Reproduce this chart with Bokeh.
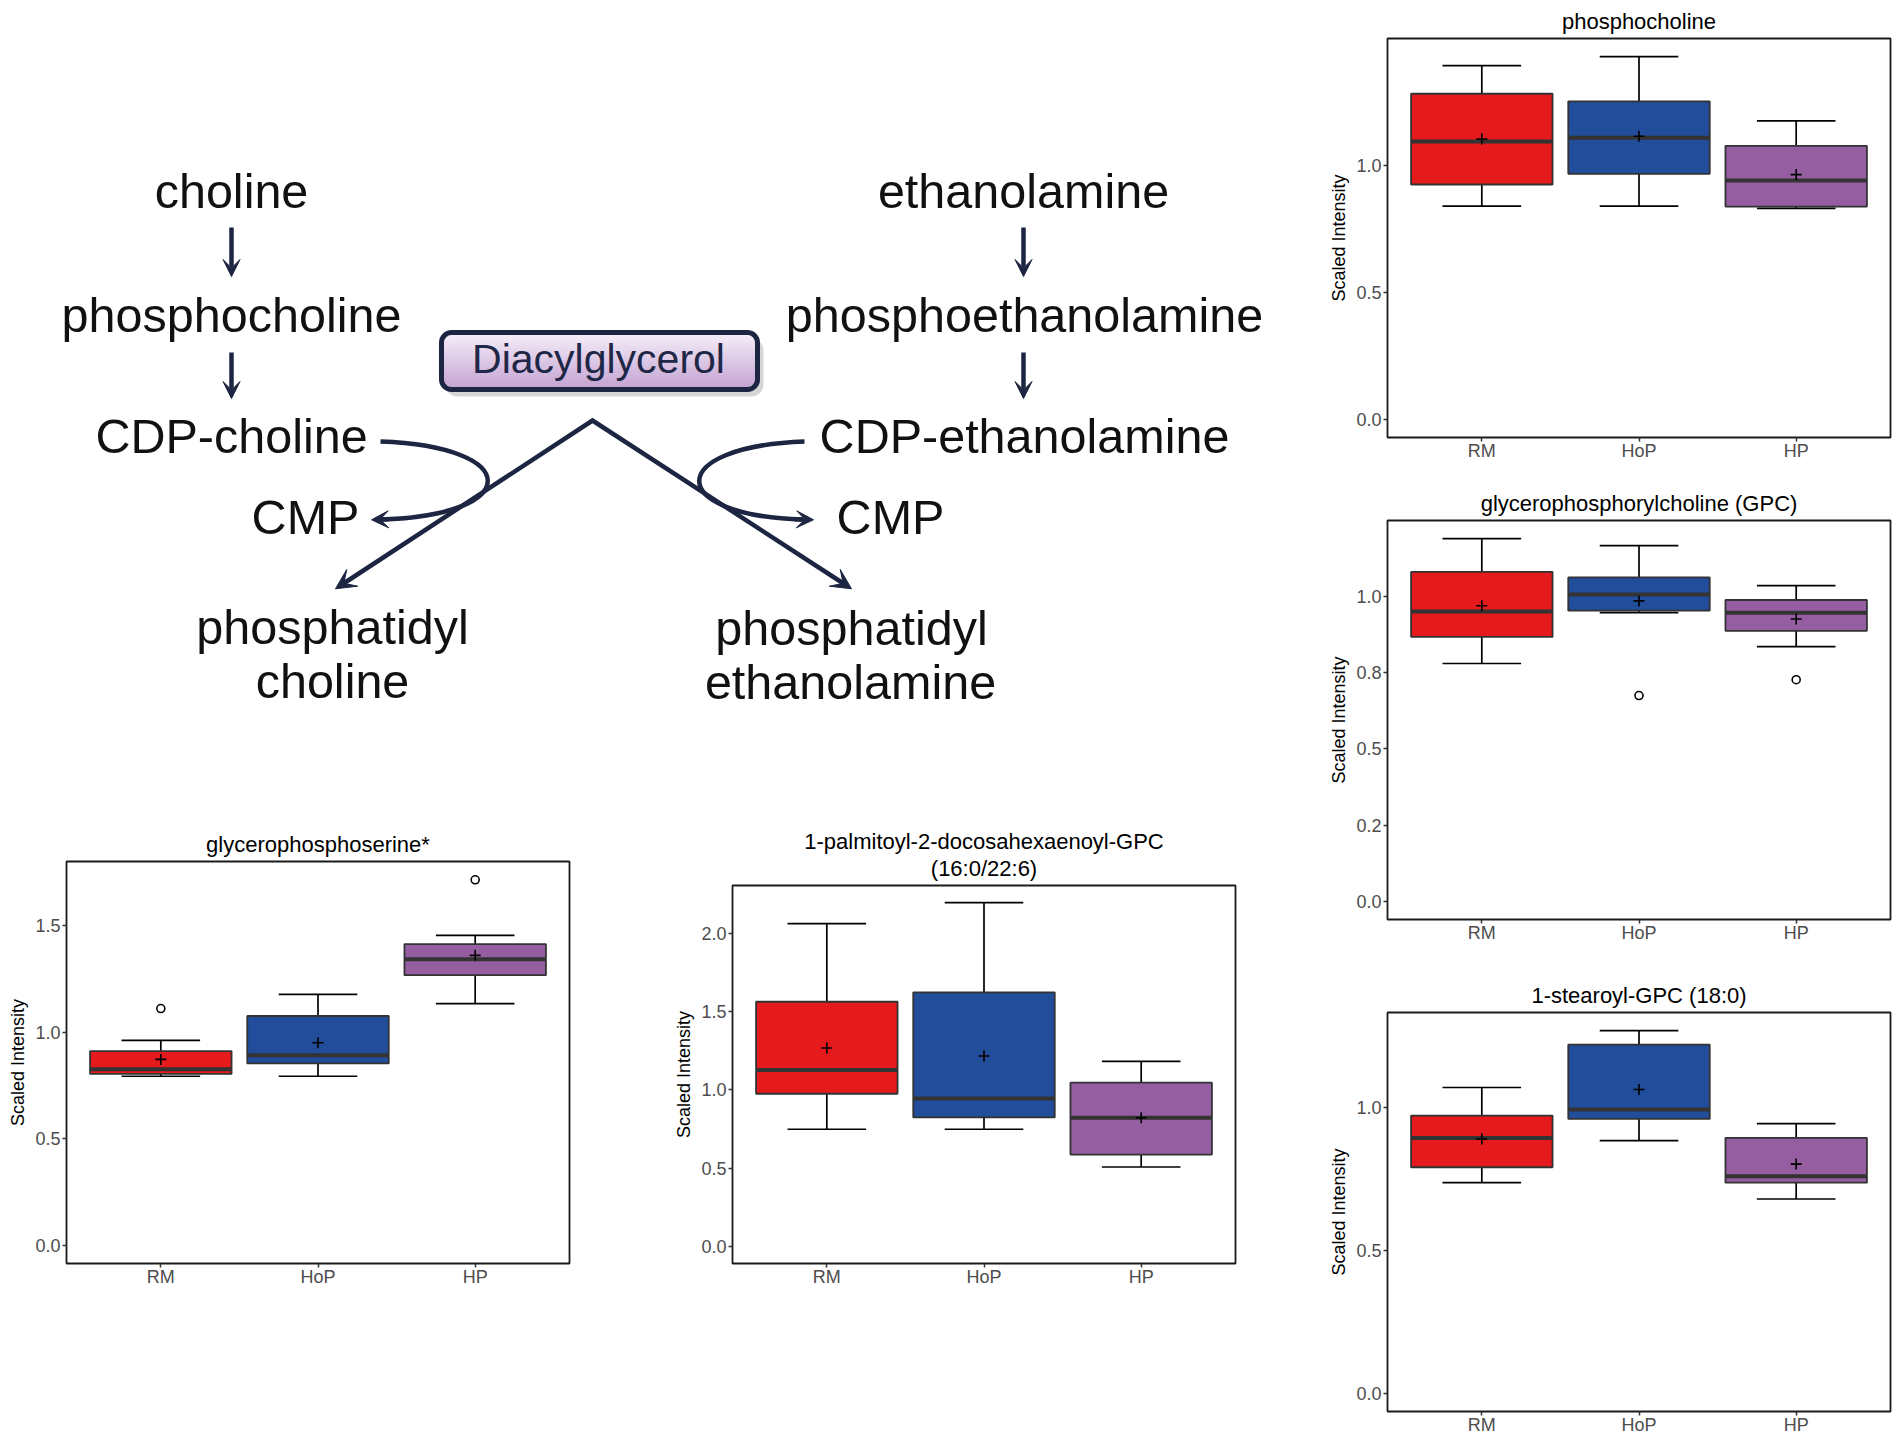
import math
from bokeh.plotting import figure
from bokeh.layouts import row, column, Spacer
from bokeh.models import Range1d, FixedTicker, Arrow, VeeHead, BoxAnnotation, Title
from bokeh.core.properties import value
from bokeh.embed import file_html
from bokeh.resources import INLINE

FONT = "Liberation Sans"
NAVY = "#1c2541"

# ---------------- data ----------------
categories = ["RM", "HoP", "HP"]
group_colors = ["#E41A1C", "#224D9B", "#955EA1"]

# phosphocholine
pc_lower = [0.839, 0.839, 0.830]
pc_q1 = [0.924, 0.966, 0.837]
pc_median = [1.093, 1.108, 0.940]
pc_q3 = [1.281, 1.251, 1.076]
pc_upper = [1.392, 1.427, 1.174]
pc_mean = [1.103, 1.114, 0.963]
pc_out_group = []
pc_out_value = []
pc_ticks = [0.0, 0.5, 1.0]
pc_tick_labels = ["0.0", "0.5", "1.0"]

# glycerophosphorylcholine (GPC)
gpc_lower = [0.779, 0.946, 0.834]
gpc_q1 = [0.866, 0.952, 0.886]
gpc_median = [0.949, 1.005, 0.945]
gpc_q3 = [1.079, 1.061, 0.987]
gpc_upper = [1.188, 1.165, 1.034]
gpc_mean = [0.968, 0.984, 0.925]
gpc_out_group = ["HoP", "HP"]
gpc_out_value = [0.674, 0.726]
gpc_ticks = [0.0, 0.25, 0.5, 0.75, 1.0]
gpc_tick_labels = ["0.0", "0.2", "0.5", "0.8", "1.0"]

# 1-stearoyl-GPC (18:0)
st_lower = [0.737, 0.884, 0.680]
st_q1 = [0.791, 0.960, 0.737]
st_median = [0.893, 0.993, 0.760]
st_q3 = [0.972, 1.220, 0.894]
st_upper = [1.070, 1.269, 0.944]
st_mean = [0.890, 1.063, 0.802]
st_out_group = []
st_out_value = []
st_ticks = [0.0, 0.5, 1.0]
st_tick_labels = ["0.0", "0.5", "1.0"]

# glycerophosphoserine*
gps_lower = [0.794, 0.794, 1.135]
gps_q1 = [0.805, 0.854, 1.269]
gps_median = [0.827, 0.892, 1.344]
gps_q3 = [0.912, 1.077, 1.415]
gps_upper = [0.962, 1.179, 1.456]
gps_mean = [0.873, 0.951, 1.362]
gps_out_group = ["RM", "HP"]
gps_out_value = [1.112, 1.717]
gps_ticks = [0.0, 0.5, 1.0, 1.5]
gps_tick_labels = ["0.0", "0.5", "1.0", "1.5"]

# 1-palmitoyl-2-docosahexaenoyl-GPC (16:0/22:6)
pd_lower = [0.748, 0.748, 0.507]
pd_q1 = [0.975, 0.824, 0.586]
pd_median = [1.127, 0.944, 0.822]
pd_q3 = [1.563, 1.623, 1.046]
pd_upper = [2.062, 2.196, 1.182]
pd_mean = [1.267, 1.216, 0.822]
pd_out_group = []
pd_out_value = []
pd_ticks = [0.0, 0.5, 1.0, 1.5, 2.0]
pd_tick_labels = ["0.0", "0.5", "1.0", "1.5", "2.0"]


def boxplot(title_lines, lower, q1, med, q3, upper, mean, out_group, out_value,
            ticks, tick_labels, frame_h, top, bottom, left=60):
    xs = [i + 1 for i in range(len(categories))]
    lo = min([0.0] + lower + out_value)
    hi = max(upper + out_value)
    span = hi - lo
    p = figure(title=None, frame_width=503, frame_height=frame_h,
               x_range=Range1d(0.4, len(categories) + 0.6),
               y_range=Range1d(lo - 0.05 * span, hi + 0.05 * span),
               output_backend="svg", toolbar_location=None,
               min_border_left=left, min_border_right=5,
               min_border_top=top, min_border_bottom=bottom)
    p.frame_align = False
    p.grid.visible = False
    p.background_fill_color = "white"
    p.border_fill_color = "white"
    p.outline_line_color = "#1a1a1a"
    p.outline_line_width = 1.8
    # title lines: nearest to the frame first
    for k, line in enumerate(reversed(title_lines)):
        t = Title(text=line, align="center", text_font=FONT, text_font_size="22px",
                  text_font_style="normal", text_color="black",
                  standoff=9 if k == 0 else -8)
        p.add_layout(t, "above")

    cap_l = [x - 0.25 for x in xs]
    cap_r = [x + 0.25 for x in xs]
    p.segment(x0=xs, y0=lower, x1=xs, y1=upper, line_color="black", line_width=1.7)
    p.segment(x0=cap_l, y0=upper, x1=cap_r, y1=upper, line_color="black", line_width=1.7)
    p.segment(x0=cap_l, y0=lower, x1=cap_r, y1=lower, line_color="black", line_width=1.7)
    p.vbar(x=xs, bottom=q1, top=q3, width=0.9, fill_color=group_colors,
           line_color="#333333", line_width=1.8)
    p.segment(x0=[x - 0.45 for x in xs], y0=med, x1=[x + 0.45 for x in xs], y1=med,
              line_color="#333333", line_width=4)
    p.scatter(x=xs, y=mean, marker="cross", size=11, line_color="black", line_width=1.6)
    if out_value:
        ox = [categories.index(g) + 1 for g in out_group]
        p.scatter(x=ox, y=out_value, marker="circle", size=8, fill_color="white",
                  line_color="black", line_width=1.6)

    p.xaxis.ticker = FixedTicker(ticks=xs)
    p.xaxis.major_label_overrides = {x: c for x, c in zip(xs, categories)}
    p.yaxis.ticker = FixedTicker(ticks=ticks)
    p.yaxis.major_label_overrides = {t: l for t, l in zip(ticks, tick_labels)}
    p.yaxis.axis_label = "Scaled Intensity"
    for ax in (p.xaxis[0], p.yaxis[0]):
        ax.axis_line_color = None
        ax.major_tick_line_color = "#333333"
        ax.major_tick_line_width = 1.5
        ax.major_tick_out = 4
        ax.major_tick_in = 0
        ax.minor_tick_out = 0
        ax.minor_tick_in = 0
        ax.major_label_text_font = FONT
        ax.major_label_text_font_size = "18px"
        ax.major_label_text_color = "#4d4d4d"
        ax.major_label_standoff = 2
        ax.axis_label_text_font = FONT
        ax.axis_label_text_font_size = "18px"
        ax.axis_label_text_font_style = "normal"
        ax.axis_label_text_color = "black"
        ax.axis_label_standoff = 4
    p.xaxis[0].major_label_standoff = -1
    return p


pc = boxplot(["phosphocholine"], pc_lower, pc_q1, pc_median, pc_q3, pc_upper, pc_mean,
             pc_out_group, pc_out_value, pc_ticks, pc_tick_labels, 399, 38, 43)
gpc = boxplot(["glycerophosphorylcholine (GPC)"], gpc_lower, gpc_q1, gpc_median, gpc_q3,
              gpc_upper, gpc_mean, gpc_out_group, gpc_out_value, gpc_ticks,
              gpc_tick_labels, 399, 40, 53)
st = boxplot(["1-stearoyl-GPC (18:0)"], st_lower, st_q1, st_median, st_q3, st_upper,
             st_mean, st_out_group, st_out_value, st_ticks, st_tick_labels, 399, 40, 30)
gps = boxplot(["glycerophosphoserine*"], gps_lower, gps_q1, gps_median, gps_q3, gps_upper,
              gps_mean, gps_out_group, gps_out_value, gps_ticks, gps_tick_labels,
              402, 38, 30, left=66)
pd = boxplot(["1-palmitoyl-2-docosahexaenoyl-GPC", "(16:0/22:6)"], pd_lower, pd_q1,
             pd_median, pd_q3, pd_upper, pd_mean, pd_out_group, pd_out_value, pd_ticks,
             pd_tick_labels, 378, 62, 30)

# ---------------- pathway diagram ----------------
DW, DH = 1326, 823
d = figure(frame_width=DW, frame_height=DH, x_range=Range1d(0, DW),
           y_range=Range1d(DH, 0), output_backend="svg", toolbar_location=None,
           x_axis_location=None, y_axis_location=None, min_border=0)
d.frame_align = False
d.grid.visible = False
d.outline_line_color = None
d.background_fill_color = "white"
d.border_fill_color = "white"

path_texts = ["choline", "phosphocholine", "CDP-choline", "CMP", "phosphatidyl", "choline",
              "ethanolamine", "phosphoethanolamine", "CDP-ethanolamine", "CMP",
              "phosphatidyl", "ethanolamine"]
tx = [231, 231, 231, 305, 332, 332, 1023, 1024, 1024, 890, 851, 850]
ty = [190.5, 314.5, 435.5, 516.5, 626.5, 680.5, 190.5, 314.5, 435.5, 516.5, 627.5, 681.5]
d.text(x=tx, y=ty, text=path_texts, text_font=value(FONT), text_font_size="48.5px",
       text_align="center", text_baseline="alphabetic", text_color="#111111")

# Diacylglycerol box (shadow, gradient fill, border)
bl, br, bt, bb = 441, 757, 332, 389
d.add_layout(BoxAnnotation(left=bl + 4, right=br + 6, top=bt + 6, bottom=bb + 7,
                           fill_color="#000000", fill_alpha=0.16, line_color=None,
                           border_radius=12, level="underlay"))
c_top = (0xF5, 0xEE, 0xF8)
c_bot = (0xC2, 0x9F, 0xD1)
qt, qb, ql, qr, qc = [], [], [], [], []
yy = bt + 2
while yy < bb - 2:
    y2 = min(yy + 2, bb - 2)
    dist = min(yy - bt, bb - y2)
    r_o, r_i = 10.0, 7.5
    if dist < r_o:
        h = r_o - dist
        inset = r_o - math.sqrt(max(0.0, r_i ** 2 - h ** 2)) if h < r_i else r_o
    else:
        inset = 2.0
    f = (yy - bt) / (bb - bt)
    col = "#%02x%02x%02x" % tuple(int(round(a + (b - a) * f)) for a, b in zip(c_top, c_bot))
    qt.append(yy); qb.append(y2 + 0.6); ql.append(bl + inset); qr.append(br - inset); qc.append(col)
    yy = y2
d.quad(left=ql, right=qr, top=qt, bottom=qb, fill_color=qc, line_color=None)
d.add_layout(BoxAnnotation(left=bl, right=br, top=bt, bottom=bb, fill_color=None,
                           fill_alpha=0, line_color=NAVY, line_alpha=1.0, line_width=5,
                           border_radius=10))
d.text(x=[598], y=[358.5], text=["Diacylglycerol"], text_font=value(FONT),
       text_font_size="41px", text_align="center", text_baseline="alphabetic",
       text_color="#1f2747")


def arrow(x0, y0, x1, y1, w=4.5, size=17):
    d.add_layout(Arrow(end=VeeHead(size=size, fill_color=NAVY, line_color=NAVY, line_width=1),
                       x_start=x0, y_start=y0, x_end=x1, y_end=y1,
                       line_color=NAVY, line_width=w))


# straight pathway arrows
arrow(231, 227, 231, 276)
arrow(231, 352, 231, 398)
arrow(1023, 227, 1023, 276)
arrow(1023, 352, 1023, 398)

# diacylglycerol V lines
d.line(x=[340, 592, 846], y=[585, 420, 585], line_color=NAVY, line_width=4.5,
       line_join="miter")
arrow(344, 582.4, 335, 588.3, size=20)
arrow(842, 582.4, 851, 588.3, size=20)

# CDP -> CMP curved arrows
d.bezier(x0=[380, 804], y0=[441, 441], x1=[380, 802], y1=[519, 519],
         cx0=[523, 664], cy0=[446, 446], cx1=[523, 664], cy1=[515, 515],
         line_color=NAVY, line_width=4.5)
arrow(388, 518.8, 371, 519.3, size=17)
arrow(794, 518.8, 813, 519.3, size=17)

# ---------------- layout ----------------
bottom_row = row(gps, Spacer(width=97, height=10), pd)
left_col = column(d, bottom_row)
right_col = column(pc, gpc, st)
layout = row(left_col, right_col)

open("out.html", "w").write(file_html(layout, INLINE))
